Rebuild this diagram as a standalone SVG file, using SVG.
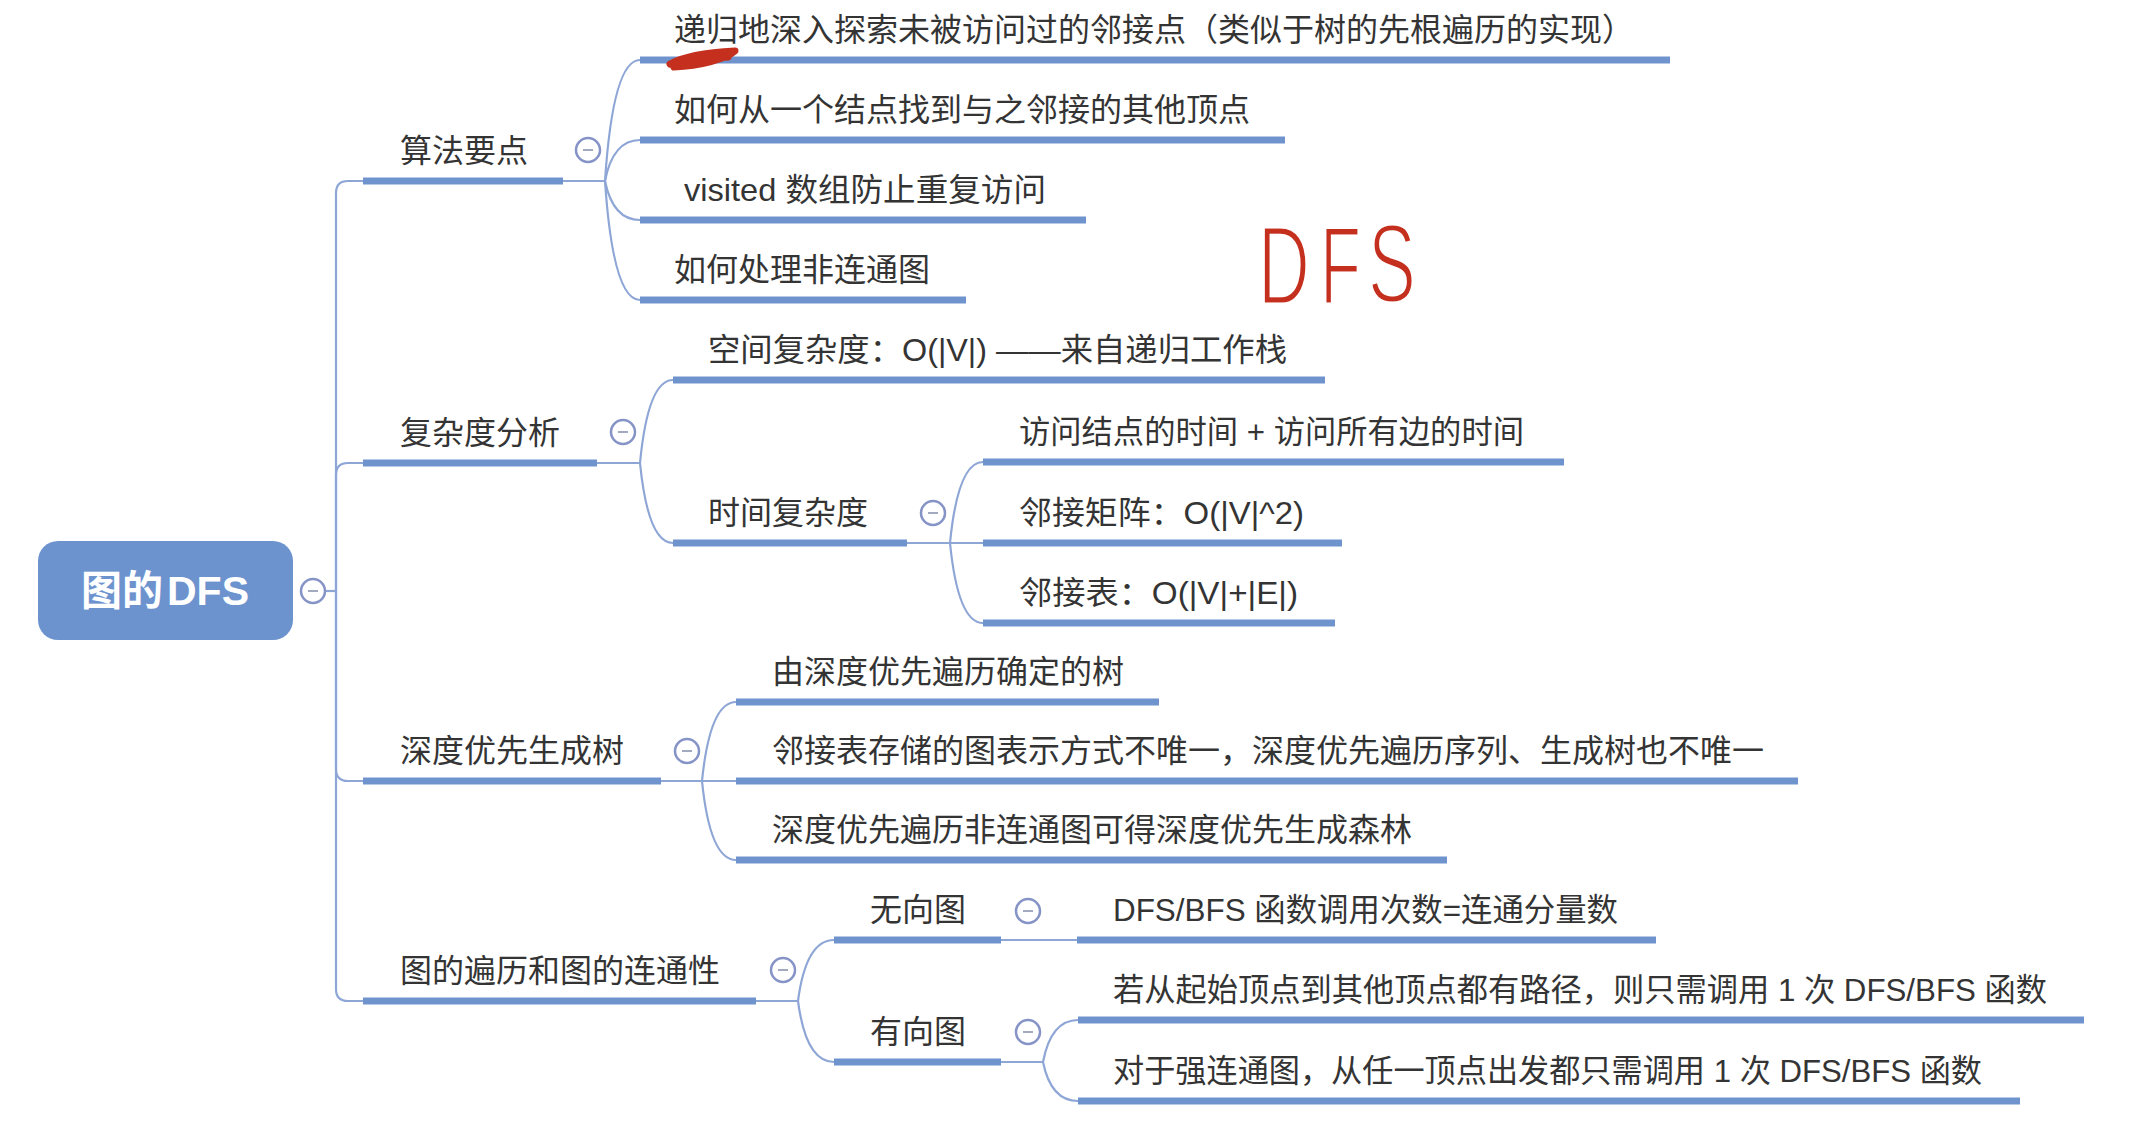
<svg xmlns="http://www.w3.org/2000/svg" width="2136" height="1130" viewBox="0 0 2136 1130">
  <style>
    .t { font-family: "Liberation Sans", "Noto Sans CJK SC", sans-serif; font-size: 32px; fill: #343434; }
    .ul { stroke: #6f93cd; stroke-width: 7; fill: none; }
    .cn { stroke: #8ea6d6; stroke-width: 2.2; fill: none; }
    .tog circle { fill: #ffffff; stroke: #8593c6; stroke-width: 2.5; }
    .tog line { stroke: #a3a9bf; stroke-width: 2; }
    .ink { stroke: #c42f1e; stroke-width: 7; fill: none; stroke-linecap: round; stroke-linejoin: round; }
    .pen { font-family: "Liberation Sans", sans-serif; font-size: 112px; fill: #c42f1e; stroke: #ffffff; stroke-width: 3; }
  </style>
  <defs>
    <g id="toggle" class="tog">
      <circle cx="0" cy="0" r="12"/>
      <line x1="-5" y1="0" x2="5" y2="0"/>
    </g>
  </defs>
  <rect width="2136" height="1130" fill="#ffffff"/>

  <!-- connectors -->
  <g id="connectors">
    <!-- trunk from root -->
    <path class="cn" d="M325 591 L336 591"/>
    <path class="cn" d="M336 591 L336 193 Q336 181 348 181 L363 181"/>
    <path class="cn" d="M336 591 L336 475 Q336 463 348 463 L363 463"/>
    <path class="cn" d="M336 591 L336 769 Q336 781 348 781 L363 781"/>
    <path class="cn" d="M336 591 L336 989 Q336 1001 348 1001 L363 1001"/>
    <!-- 算法要点 -->
    <path class="cn" d="M563 181 L605 181"/>
    <path class="cn" d="M605 181 Q613 60 640 60"/>
    <path class="cn" d="M605 181 Q613 140 640 140"/>
    <path class="cn" d="M605 181 Q613 220 640 220"/>
    <path class="cn" d="M605 181 Q613 300 640 300"/>
    <!-- 复杂度分析 -->
    <path class="cn" d="M597 463 L640 463"/>
    <path class="cn" d="M640 463 Q648 380 673 380"/>
    <path class="cn" d="M640 463 Q648 543 673 543"/>
    <!-- 时间复杂度 -->
    <path class="cn" d="M907 543 L983 543"/>
    <path class="cn" d="M950 543 Q958 462 983 462"/>
    <path class="cn" d="M950 543 Q958 623 983 623"/>
    <!-- 深度优先生成树 -->
    <path class="cn" d="M661 781 L736 781"/>
    <path class="cn" d="M702 781 Q710 702 736 702"/>
    <path class="cn" d="M702 781 Q710 860 736 860"/>
    <!-- 图的遍历和图的连通性 -->
    <path class="cn" d="M756 1001 L798 1001"/>
    <path class="cn" d="M798 1001 Q806 940 834 940"/>
    <path class="cn" d="M798 1001 Q806 1062 834 1062"/>
    <!-- 无向图 -->
    <path class="cn" d="M1001 940 L1077 940"/>
    <!-- 有向图 -->
    <path class="cn" d="M1001 1062 L1043 1062"/>
    <path class="cn" d="M1043 1062 Q1051 1020 1078 1020"/>
    <path class="cn" d="M1043 1062 Q1051 1101 1078 1101"/>
  </g>

  <!-- root -->
  <g id="root">
    <rect x="38" y="541" width="255" height="99" rx="20" fill="#6d93cf"/>
    <text x="165" y="605" text-anchor="middle" style="font-family: 'Liberation Sans', 'Noto Sans CJK SC', sans-serif; font-size: 41px; font-weight: bold; fill: #ffffff;">图的<tspan dx="4">DFS</tspan></text>
    <use href="#toggle" x="313" y="591"/>
  </g>

  <!-- 算法要点 -->
  <g id="n-algo">
    <line class="ul" x1="363" y1="181" x2="563" y2="181"/>
    <text class="t" x="400" y="162">算法要点</text>
    <use href="#toggle" x="588" y="150"/>
  </g>
  <g id="n-algo-1">
    <line class="ul" x1="640" y1="60" x2="1670" y2="60"/>
    <text class="t" x="674" y="41">递归地深入探索未被访问过的邻接点（类似于树的先根遍历的实现）</text>
  </g>
  <g id="n-algo-2">
    <line class="ul" x1="640" y1="140" x2="1285" y2="140"/>
    <text class="t" x="674" y="121">如何从一个结点找到与之邻接的其他顶点</text>
  </g>
  <g id="n-algo-3">
    <line class="ul" x1="640" y1="220" x2="1086" y2="220"/>
    <text class="t" x="684" y="201" textLength="362" lengthAdjust="spacingAndGlyphs">visited 数组防止重复访问</text>
  </g>
  <g id="n-algo-4">
    <line class="ul" x1="640" y1="300" x2="966" y2="300"/>
    <text class="t" x="674" y="281">如何处理非连通图</text>
  </g>

  <!-- 复杂度分析 -->
  <g id="n-cplx">
    <line class="ul" x1="363" y1="463" x2="597" y2="463"/>
    <text class="t" x="400" y="444">复杂度分析</text>
    <use href="#toggle" x="623" y="432"/>
  </g>
  <g id="n-space">
    <line class="ul" x1="673" y1="380" x2="1325" y2="380"/>
    <text class="t" x="708" y="361" textLength="579" lengthAdjust="spacingAndGlyphs">空间复杂度：O(|V|) ——来自递归工作栈</text>
  </g>
  <g id="n-time">
    <line class="ul" x1="673" y1="543" x2="907" y2="543"/>
    <text class="t" x="708" y="524">时间复杂度</text>
    <use href="#toggle" x="933" y="513"/>
  </g>
  <g id="n-time-1">
    <line class="ul" x1="983" y1="462" x2="1564" y2="462"/>
    <text class="t" x="1019" y="443" textLength="505" lengthAdjust="spacingAndGlyphs">访问结点的时间 + 访问所有边的时间</text>
  </g>
  <g id="n-time-2">
    <line class="ul" x1="983" y1="543" x2="1342" y2="543"/>
    <text class="t" x="1019" y="524" textLength="285" lengthAdjust="spacingAndGlyphs">邻接矩阵：O(|V|^2)</text>
  </g>
  <g id="n-time-3">
    <line class="ul" x1="983" y1="623" x2="1335" y2="623"/>
    <text class="t" x="1019" y="604" textLength="279" lengthAdjust="spacingAndGlyphs">邻接表：O(|V|+|E|)</text>
  </g>

  <!-- 深度优先生成树 -->
  <g id="n-tree">
    <line class="ul" x1="363" y1="781" x2="661" y2="781"/>
    <text class="t" x="400" y="762">深度优先生成树</text>
    <use href="#toggle" x="687" y="751"/>
  </g>
  <g id="n-tree-1">
    <line class="ul" x1="736" y1="702" x2="1159" y2="702"/>
    <text class="t" x="772" y="683">由深度优先遍历确定的树</text>
  </g>
  <g id="n-tree-2">
    <line class="ul" x1="736" y1="781" x2="1798" y2="781"/>
    <text class="t" x="772" y="762">邻接表存储的图表示方式不唯一，深度优先遍历序列、生成树也不唯一</text>
  </g>
  <g id="n-tree-3">
    <line class="ul" x1="736" y1="860" x2="1447" y2="860"/>
    <text class="t" x="772" y="841">深度优先遍历非连通图可得深度优先生成森林</text>
  </g>

  <!-- 图的遍历和图的连通性 -->
  <g id="n-conn">
    <line class="ul" x1="363" y1="1001" x2="756" y2="1001"/>
    <text class="t" x="400" y="982">图的遍历和图的连通性</text>
    <use href="#toggle" x="783" y="970"/>
  </g>
  <g id="n-undirected">
    <line class="ul" x1="834" y1="940" x2="1001" y2="940"/>
    <text class="t" x="870" y="921">无向图</text>
    <use href="#toggle" x="1028" y="911"/>
  </g>
  <g id="n-undirected-1">
    <line class="ul" x1="1077" y1="940" x2="1656" y2="940"/>
    <text class="t" x="1113" y="921" textLength="505" lengthAdjust="spacingAndGlyphs">DFS/BFS 函数调用次数=连通分量数</text>
  </g>
  <g id="n-directed">
    <line class="ul" x1="834" y1="1062" x2="1001" y2="1062"/>
    <text class="t" x="870" y="1043">有向图</text>
    <use href="#toggle" x="1028" y="1032"/>
  </g>
  <g id="n-directed-1">
    <line class="ul" x1="1078" y1="1020" x2="2084" y2="1020"/>
    <text class="t" x="1113" y="1001" textLength="934" lengthAdjust="spacingAndGlyphs">若从起始顶点到其他顶点都有路径，则只需调用 1 次 DFS/BFS 函数</text>
  </g>
  <g id="n-directed-2">
    <line class="ul" x1="1078" y1="1101" x2="2020" y2="1101"/>
    <text class="t" x="1113" y="1082" textLength="869" lengthAdjust="spacingAndGlyphs">对于强连通图，从任一顶点出发都只需调用 1 次 DFS/BFS 函数</text>
  </g>

  <!-- red pen annotations -->
  <g id="annotations">
    <path class="ink" d="M670 64 C688 54 716 52 735 51 C726 59 700 66 674 67 C690 61 712 58 728 57"/>
    <text class="pen" transform="translate(1258 304) scale(0.64 1)">D</text>
    <text class="pen" transform="translate(1320 304) scale(0.6 1)">F</text>
    <text class="pen" transform="translate(1368 302) scale(0.64 1)">S</text>
  </g>
</svg>
